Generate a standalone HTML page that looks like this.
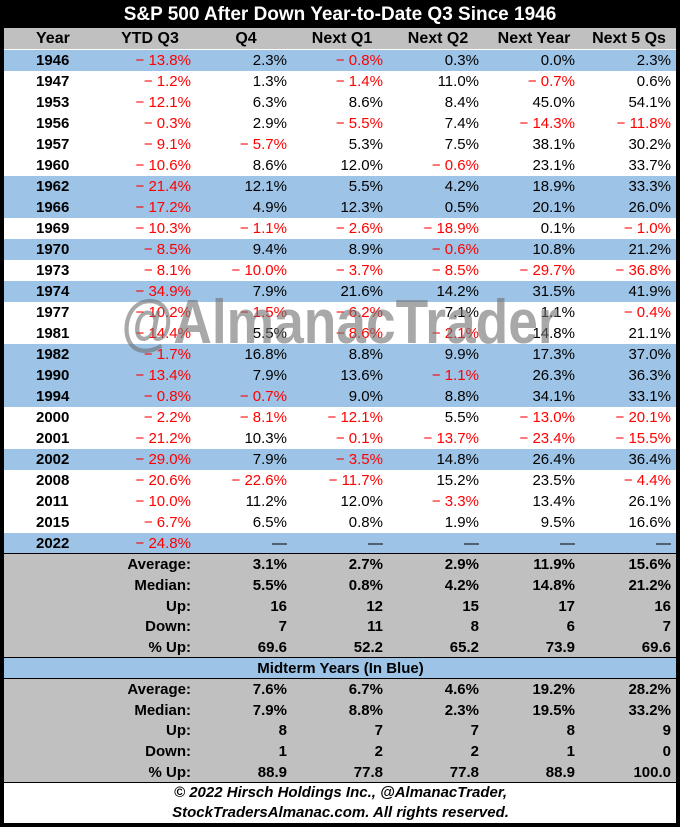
<!DOCTYPE html><html><head><style>
body{margin:0;width:680px;height:827px;background:#fff;font-family:"Liberation Sans",Arial,sans-serif;position:relative;overflow:hidden}
.f{position:absolute;left:0;top:0;width:680px;height:827px;box-sizing:border-box;border:4px solid #000;border-top:none}
.r{position:absolute;left:4px;width:673px;height:21px;font-size:15px;line-height:21px}
.r span{position:absolute;top:0;text-align:right;width:90px}
.b{background:#9dc3e6}.g{background:#c0c0c0}
.y{left:32px!important;text-align:left!important;font-weight:bold}
.n{color:#f00}
.bo{font-weight:bold}
.ln{position:absolute;left:4px;width:673px;height:1px;background:#000}
</style></head><body>
<div style="position:absolute;left:0;top:0;width:680px;height:28px;background:#000;color:#fff;font-weight:bold;font-size:19px;line-height:30px;text-align:center">S&amp;P 500 After Down Year-to-Date Q3 Since 1946</div>
<div id="c"></div>
<div style="position:absolute;left:40px;top:288px;width:600px;text-align:center;font-size:62px;font-weight:bold;color:rgba(110,110,110,0.6);line-height:70px;transform:scaleX(0.86);transform-origin:300px 0">@AlmanacTrader</div>
<div style="position:absolute;left:4px;top:783px;width:673px;text-align:center;font-size:15px;font-weight:bold;font-style:italic;line-height:20px">© 2022 Hirsch Holdings Inc., @AlmanacTrader,<br>StockTradersAlmanac.com. All rights reserved.</div>
<div class="f"></div>
<script>
const rows=[["1946","−13.8%","2.3%","−0.8%","0.3%","0.0%","2.3%",1],
["1947","−1.2%","1.3%","−1.4%","11.0%","−0.7%","0.6%",0],
["1953","−12.1%","6.3%","8.6%","8.4%","45.0%","54.1%",0],
["1956","−0.3%","2.9%","−5.5%","7.4%","−14.3%","−11.8%",0],
["1957","−9.1%","−5.7%","5.3%","7.5%","38.1%","30.2%",0],
["1960","−10.6%","8.6%","12.0%","−0.6%","23.1%","33.7%",0],
["1962","−21.4%","12.1%","5.5%","4.2%","18.9%","33.3%",1],
["1966","−17.2%","4.9%","12.3%","0.5%","20.1%","26.0%",1],
["1969","−10.3%","−1.1%","−2.6%","−18.9%","0.1%","−1.0%",0],
["1970","−8.5%","9.4%","8.9%","−0.6%","10.8%","21.2%",1],
["1973","−8.1%","−10.0%","−3.7%","−8.5%","−29.7%","−36.8%",0],
["1974","−34.9%","7.9%","21.6%","14.2%","31.5%","41.9%",1],
["1977","−10.2%","−1.5%","−6.2%","7.1%","1.1%","−0.4%",0],
["1981","−14.4%","5.5%","−8.6%","−2.1%","14.8%","21.1%",0],
["1982","−1.7%","16.8%","8.8%","9.9%","17.3%","37.0%",1],
["1990","−13.4%","7.9%","13.6%","−1.1%","26.3%","36.3%",1],
["1994","−0.8%","−0.7%","9.0%","8.8%","34.1%","33.1%",1],
["2000","−2.2%","−8.1%","−12.1%","5.5%","−13.0%","−20.1%",0],
["2001","−21.2%","10.3%","−0.1%","−13.7%","−23.4%","−15.5%",0],
["2002","−29.0%","7.9%","−3.5%","14.8%","26.4%","36.4%",1],
["2008","−20.6%","−22.6%","−11.7%","15.2%","23.5%","−4.4%",0],
["2011","−10.0%","11.2%","12.0%","−3.3%","13.4%","26.1%",0],
["2015","−6.7%","6.5%","0.8%","1.9%","9.5%","16.6%",0],
["2022","−24.8%","—","—","—","—","—",1]];
const R=[101,197,293,389,485,581];
let h='';
function row(top,cls,cells,bold,yr){h+=`<div class="r ${cls}" style="top:${top}px">`;if(yr!==undefined)h+=`<span class="y">${yr}</span>`;
cells.forEach((c,i)=>{if(c===null)return;const neg=c.startsWith('−');h+=`<span class="${neg?'n':''} ${bold?'bo':''}" style="left:${R[i]-4}px">${neg?'− '+c.slice(1):c}</span>`});h+='</div>';}
h+=`<div class="r g" style="top:28px;font-weight:bold;font-size:16px"><span class="y">Year</span>`;
[["YTD Q3",150],["Q4",246],["Next Q1",342],["Next Q2",438],["Next Year",534],["Next 5 Qs",629]].forEach(([t,x])=>h+=`<span style="left:${x-4-60}px;text-align:center;width:120px">${t}</span>`);
h+='</div>';
rows.forEach((r,i)=>{row(50+i*21.0,r[7]?'b':'',r.slice(1,7),false,r[0]);});
const st=[["Average:","3.1%","2.7%","2.9%","11.9%","15.6%"],["Median:","5.5%","0.8%","4.2%","14.8%","21.2%"],["Up:","16","12","15","17","16"],["Down:","7","11","8","6","7"],["% Up:","69.6","52.2","65.2","73.9","69.6"]];
const mt=[["Average:","7.6%","6.7%","4.6%","19.2%","28.2%"],["Median:","7.9%","8.8%","2.3%","19.5%","33.2%"],["Up:","8","7","7","8","9"],["Down:","1","2","2","1","0"],["% Up:","88.9","77.8","77.8","88.9","100.0"]];
h+=`<div class="g" style="position:absolute;left:4px;top:554px;width:673px;height:104px"></div>`;
st.forEach((r,i)=>row(554+i*20.8,'',r,true));
h+=`<div class="b" style="position:absolute;left:4px;top:658px;width:673px;height:20px;font-weight:bold;font-size:15px;line-height:21px;text-align:center">Midterm Years (In Blue)</div>`;
h+=`<div class="g" style="position:absolute;left:4px;top:679px;width:673px;height:103px"></div>`;
mt.forEach((r,i)=>row(679+i*20.7,'',r,true));
h+=`<div class="ln" style="top:553px"></div><div class="ln" style="top:657px"></div><div class="ln" style="top:678px"></div><div class="ln" style="top:782px"></div>`;
document.getElementById('c').innerHTML=h;
</script>
</body></html>
